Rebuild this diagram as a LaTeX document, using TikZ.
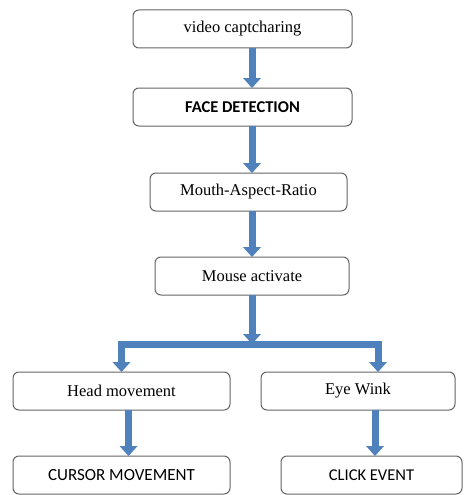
\documentclass[tikz,border=0pt]{standalone}
\usepackage{fontspec}
\setmainfont{Liberation Serif}
\newfontfamily\calibri{Carlito}
\usetikzlibrary{positioning,arrows.meta}
\definecolor{arrowblue}{RGB}{79,129,189}
\definecolor{boxgray}{RGB}{100,100,100}

\tikzset{
  box/.style={draw=boxgray, line width=1pt, rounded corners=6pt, minimum height=38pt, outer sep=0pt, font=\fontsize{16.5}{18}\selectfont},
  fat/.style={draw=arrowblue, line width=7pt, -{Triangle[width=18pt,length=10pt,line width=0pt]}},
}

\begin{document}
\begin{tikzpicture}[x=1pt,y=-1pt]
\useasboundingbox (0,0) rectangle (463,495);

\node[box, minimum width=219pt] (video) at (242.5,29) {video captcharing};
\node[box, minimum width=219pt, below=40pt of video] (face) {\calibri\bfseries\fontsize{16.5}{18}\selectfont FACE DETECTION};
\node[box, minimum width=197pt, below=47pt of face, xshift=6pt] (mar) {Mouth-Aspect-Ratio};
\node[box, minimum width=194pt, below=46pt of mar, xshift=3.5pt] (mouse) {Mouse activate};
\node[box, minimum width=217pt, below=77pt of mouse, xshift=-130.5pt] (head) {Head movement};
\node[box, minimum width=194pt, right=31pt of head] (wink) {Eye Wink};
\node[box, minimum width=217pt, below=46pt of head] (cursor) {\calibri\fontsize{17}{18}\selectfont CURSOR MOVEMENT};
\node[box, minimum width=181pt, below=46pt of wink, xshift=13.5pt] (click) {\calibri CLICK EVENT};

\coordinate (split) at ([yshift=-49pt]mouse.south);

\draw[fat] (video.south -| mouse) -- (face.north -| mouse);
\draw[fat] (face.south -| mouse) -- (mar.north -| mouse);
\draw[fat] (mar.south -| mouse) -- (mouse.north);
\draw[fat] (mouse.south) -- (split);
\draw[fat] (split) -| (head.north);
\draw[fat] (split) -| ([xshift=20pt]wink.north);
\draw[fat] ([xshift=7pt]head.south) -- ([xshift=7pt]head.south |- cursor.north);
\draw[fat] ([xshift=17pt]wink.south) -- ([xshift=17pt]wink.south |- click.north);
\end{tikzpicture}
\end{document}
